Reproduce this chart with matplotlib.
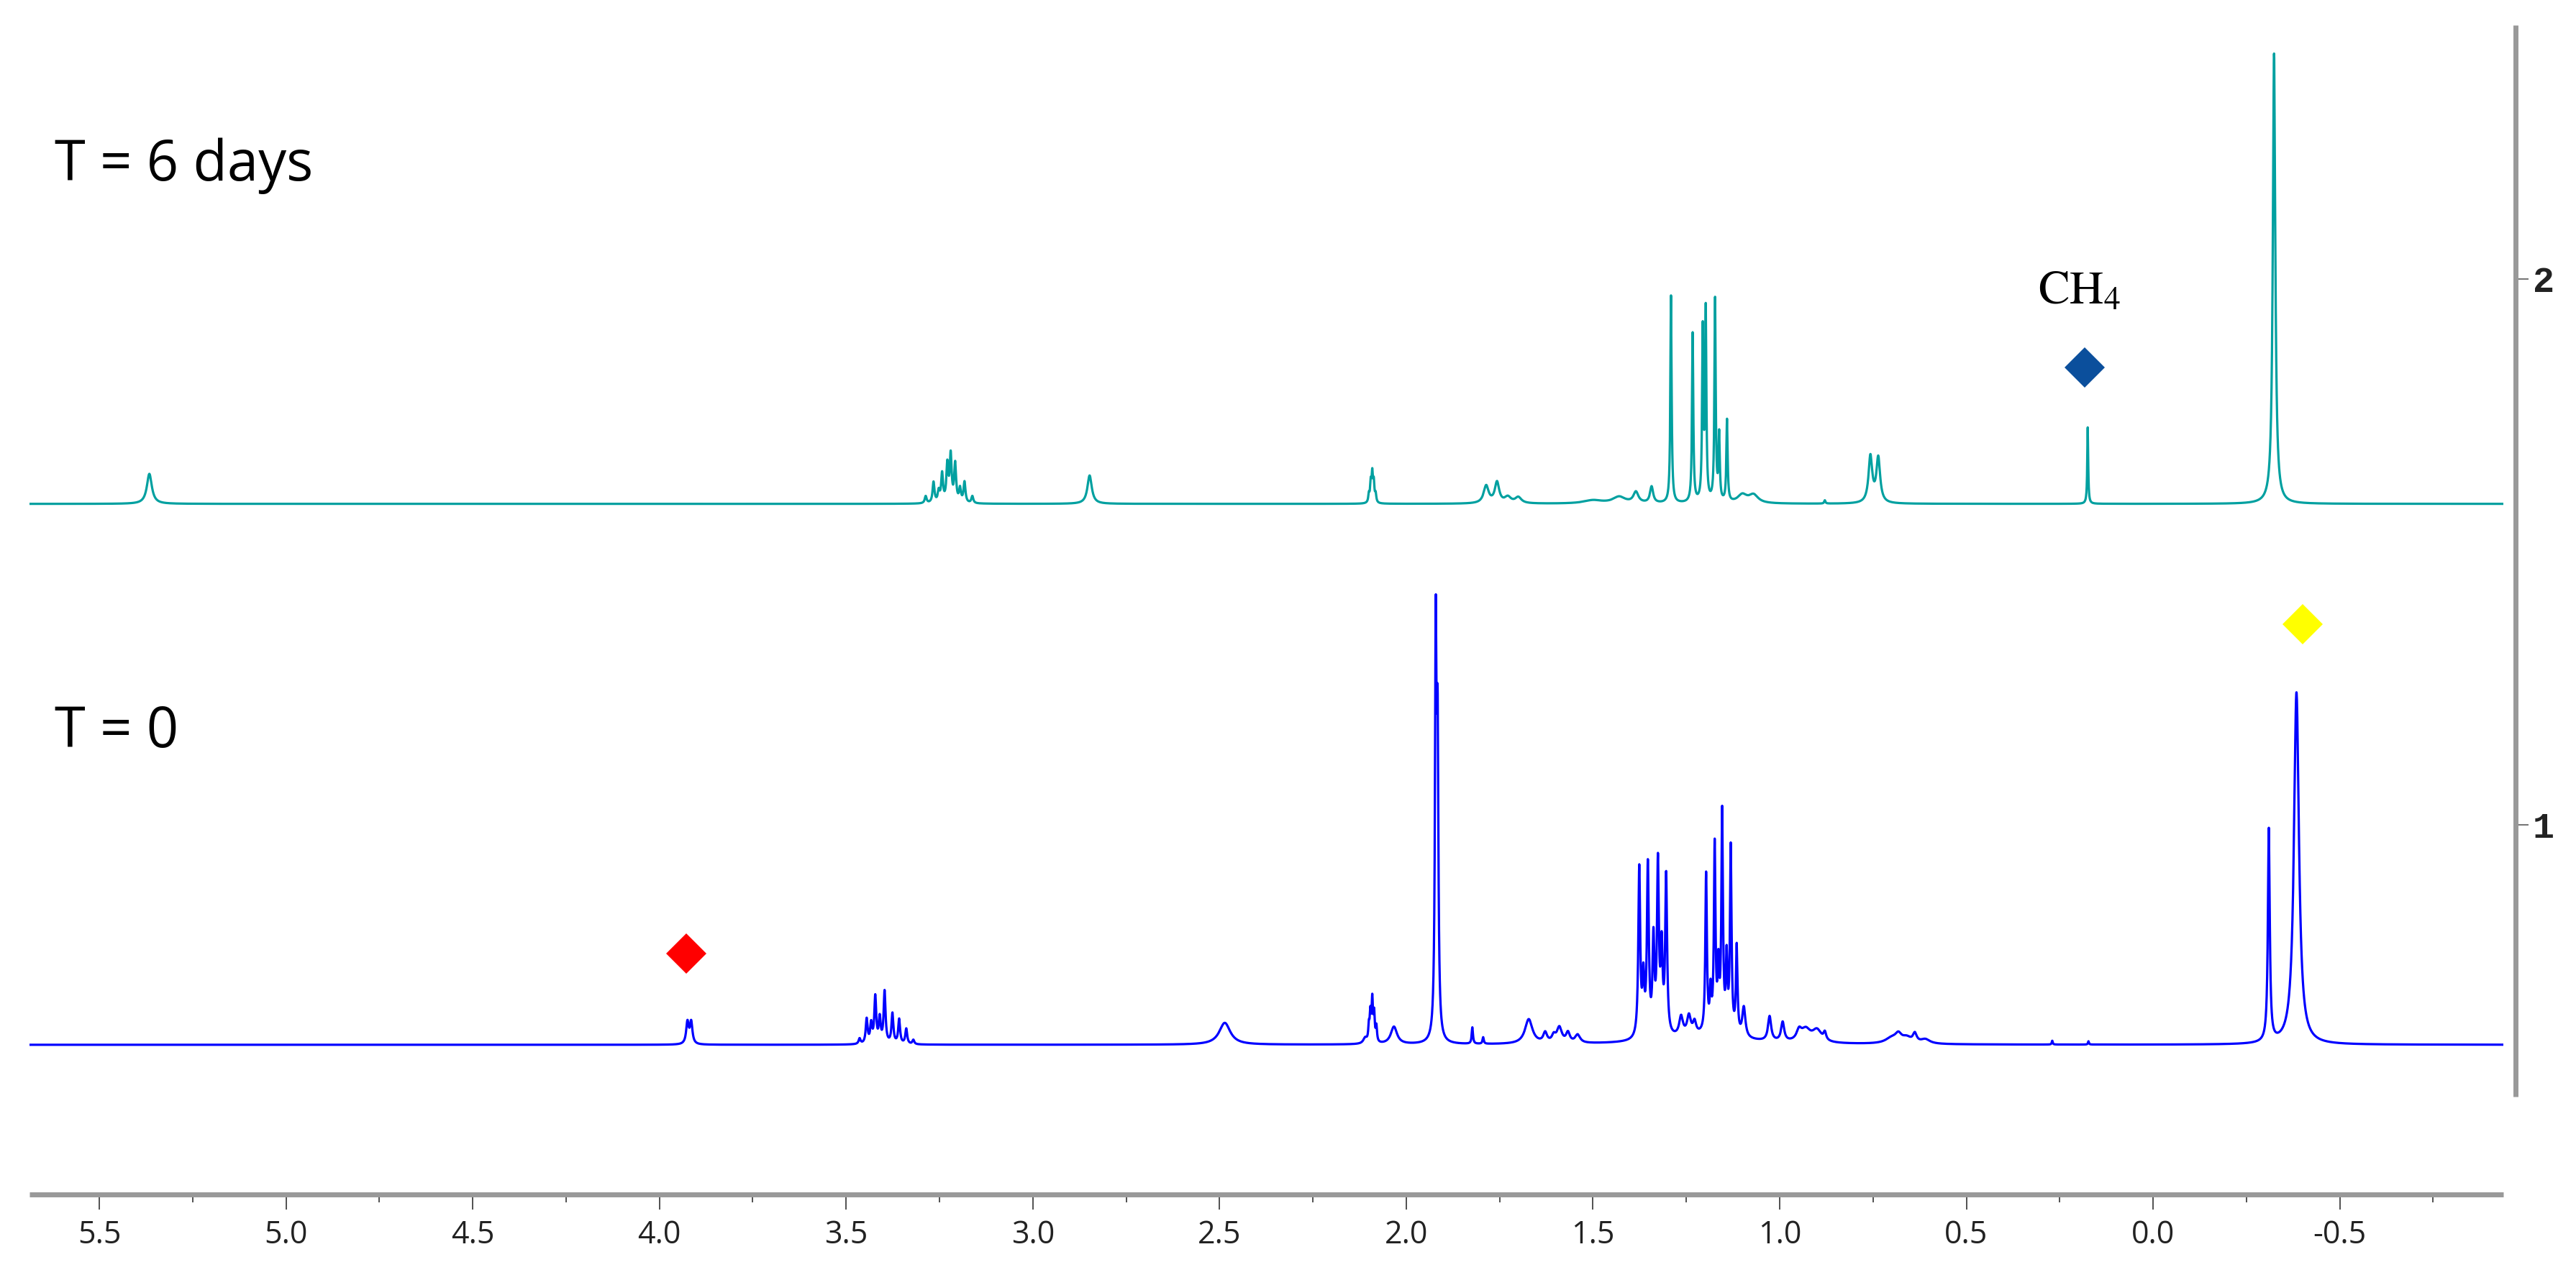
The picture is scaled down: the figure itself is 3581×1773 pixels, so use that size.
import numpy as np
import matplotlib
matplotlib.use("Agg")
import matplotlib.pyplot as plt
from matplotlib.ticker import MultipleLocator, FixedLocator

# ---------------- data ----------------
# T = 6 days spectrum: peak centres (ppm), apex heights, half-widths (ppm)
t6_ppm = [5.366,
          3.287, 3.266, 3.252, 3.243, 3.229, 3.220, 3.208, 3.195, 3.183, 3.162,
          2.848,
          2.100, 2.095, 2.091, 2.087, 2.082,
          1.786, 1.757, 1.728, 1.700,
          1.500, 1.430, 1.385, 1.343,
          1.291, 1.233, 1.206, 1.198, 1.173, 1.162, 1.141,
          1.100, 1.070,
          0.879, 0.757, 0.736,
          0.175,
          -0.324]
t6_height = [0.055,
             0.013, 0.038, 0.020, 0.052, 0.068, 0.085, 0.070, 0.025, 0.038, 0.013,
             0.052,
             0.015, 0.035, 0.050, 0.035, 0.015,
             0.032, 0.038, 0.011, 0.011,
             0.006, 0.012, 0.020, 0.030,
             0.380, 0.310, 0.310, 0.345, 0.370, 0.120, 0.150,
             0.015, 0.015,
             0.006, 0.085, 0.082,
             0.140,
             0.825]
t6_width = [0.008,
            0.003, 0.003, 0.003, 0.003, 0.003, 0.003, 0.003, 0.003, 0.003, 0.003,
            0.007,
            0.002, 0.002, 0.002, 0.002, 0.002,
            0.008, 0.007, 0.010, 0.010,
            0.030, 0.020, 0.008, 0.005,
            0.002, 0.002, 0.002, 0.002, 0.002, 0.002, 0.002,
            0.015, 0.015,
            0.002, 0.006, 0.006,
            0.0015,
            0.004]

# T = 0 spectrum
t0_ppm = [3.925, 3.915,
          3.464, 3.445, 3.433, 3.422, 3.410, 3.397, 3.376, 3.358, 3.339, 3.320,
          2.486,
          2.110, 2.100, 2.096, 2.091, 2.086, 2.080,
          2.033,
          1.921, 1.916,
          1.823, 1.794,
          1.672, 1.628, 1.605, 1.590, 1.567, 1.541,
          1.376, 1.365, 1.353, 1.338, 1.326, 1.316, 1.304,
          1.264, 1.243, 1.228, 1.200,
          1.197, 1.185, 1.174, 1.164, 1.154, 1.142, 1.131, 1.115, 1.096,
          1.027, 0.992, 0.948, 0.930, 0.900, 0.879,
          0.700, 0.682, 0.660, 0.638, 0.610,
          0.270, 0.173,
          -0.310, -0.384]
t0_height = [0.040, 0.040,
             0.010, 0.045, 0.035, 0.085, 0.045, 0.095, 0.055, 0.045, 0.028, 0.008,
             0.040,
             0.010, 0.028, 0.050, 0.075, 0.050, 0.028,
             0.032,
             0.720, 0.510,
             0.030, 0.012,
             0.045, 0.018, 0.012, 0.028, 0.018, 0.015,
             0.310, 0.100, 0.310, 0.170, 0.310, 0.150, 0.290,
             0.035, 0.035, 0.022, 0.015,
             0.290, 0.070, 0.340, 0.110, 0.400, 0.130, 0.340, 0.160, 0.055,
             0.045, 0.035, 0.018, 0.022, 0.022, 0.014,
             0.010, 0.014, 0.010, 0.016, 0.008,
             0.007, 0.006,
             0.390, 0.645]
t0_width = [0.004, 0.004,
            0.003, 0.003, 0.003, 0.003, 0.003, 0.003, 0.003, 0.003, 0.003, 0.003,
            0.018,
            0.006, 0.002, 0.002, 0.002, 0.002, 0.002,
            0.010,
            0.0025, 0.0025,
            0.002, 0.002,
            0.012, 0.006, 0.006, 0.008, 0.006, 0.008,
            0.003, 0.003, 0.003, 0.003, 0.003, 0.003, 0.003,
            0.006, 0.006, 0.005, 0.120,
            0.0025, 0.0025, 0.0025, 0.0025, 0.0025, 0.0025, 0.0025, 0.0025, 0.005,
            0.005, 0.005, 0.008, 0.015, 0.015, 0.004,
            0.020, 0.010, 0.015, 0.006, 0.015,
            0.0015, 0.0015,
            0.003, 0.008]

t6_offset = 1.588
t0_offset = 0.597

trace_labels = ["T = 6 days", "T = 0"]
label_x = [5.62, 5.62]
label_y = [2.180, 1.142]

markers_ppm = [0.183, 3.929, -0.401]
markers_y = [1.838, 0.764, 1.368]
markers_color = ["#0B4F9C", "#FF0000", "#FFFF00"]

ch4_ppm, ch4_y = 0.198, 1.955

x_major = [5.5, 5.0, 4.5, 4.0, 3.5, 3.0, 2.5, 2.0, 1.5, 1.0, 0.5, 0.0, -0.5]
x_major_labels = ["5.5", "5.0", "4.5", "4.0", "3.5", "3.0", "2.5", "2.0",
                  "1.5", "1.0", "0.5", "0.0", "-0.5"]
y_ticks = [1, 2]
y_tick_labels = ["1", "2"]

xlim = (5.687, -0.938)
ylim = (0.3228, 2.465)


def spectrum(x, centres, heights, widths, offset):
    c = np.asarray(centres)[:, None]
    h = np.asarray(heights)[:, None]
    w = np.asarray(widths)[:, None]
    return offset + np.sum(h / (1.0 + ((x[None, :] - c) / w) ** 2), axis=0)


# ---------------- figure ----------------
W, H, DPI = 3581, 1773, 100
fig = plt.figure(figsize=(W / DPI, H / DPI), dpi=DPI)
ax = fig.add_axes([41 / W, (H - 1661) / H, (3480 - 41) / W, (1661 - 35) / H])

x = np.arange(xlim[1], xlim[0], 0.0002)
ax.plot(x, spectrum(x, t6_ppm, t6_height, t6_width, t6_offset),
        color="#00A0A0", lw=2.3, solid_joinstyle="round")
ax.plot(x, spectrum(x, t0_ppm, t0_height, t0_width, t0_offset),
        color="#0000FF", lw=2.3, solid_joinstyle="round")

for px, py, pc in zip(markers_ppm, markers_y, markers_color):
    ax.plot([px], [py], marker="D", markersize=29, color=pc,
            markeredgewidth=0, linestyle="none")

plt.rcParams["mathtext.fontset"] = "stix"
ax.text(ch4_ppm, ch4_y, r"$\mathrm{CH_4}$", fontsize=47, ha="center",
        va="baseline", color="black")

for lab, lx, ly in zip(trace_labels, label_x, label_y):
    ax.text(lx, ly, lab, fontsize=56, family=["Open Sans", "DejaVu Sans"],
            ha="left", va="baseline", color="black")

ax.set_xlim(*xlim)
ax.set_ylim(*ylim)

for s in ["left", "top"]:
    ax.spines[s].set_visible(False)
for s in ["bottom", "right"]:
    ax.spines[s].set_color("#999999")
    ax.spines[s].set_linewidth(5)
    ax.spines[s].set_capstyle("butt")
ax.spines["right"].set_position(("outward", 12.2))
ax.spines["right"].set_bounds(0.502, 2.465)

ax.xaxis.set_major_locator(FixedLocator(x_major))
ax.set_xticklabels(x_major_labels)
ax.xaxis.set_minor_locator(MultipleLocator(0.25))
ax.tick_params(axis="x", which="major", length=15, width=1.2, color="#333333",
               pad=10, labelsize=31, labelcolor="#222222")
ax.tick_params(axis="x", which="minor", length=8, width=1.2, color="#333333")
for t in ax.get_xticklabels():
    t.set_family(["Open Sans", "DejaVu Sans"])

ax.yaxis.tick_right()
ax.yaxis.set_major_locator(FixedLocator(y_ticks))
ax.set_yticklabels(y_tick_labels)
ax.tick_params(axis="y", which="major", length=13, width=1.5, color="#777777",
               pad=4, labelsize=36, labelcolor="#222222")
for t in ax.get_yticklabels():
    t.set_family(["Liberation Mono", "DejaVu Sans Mono"])
    t.set_fontweight("bold")

fig.savefig("out.png", dpi=DPI)
